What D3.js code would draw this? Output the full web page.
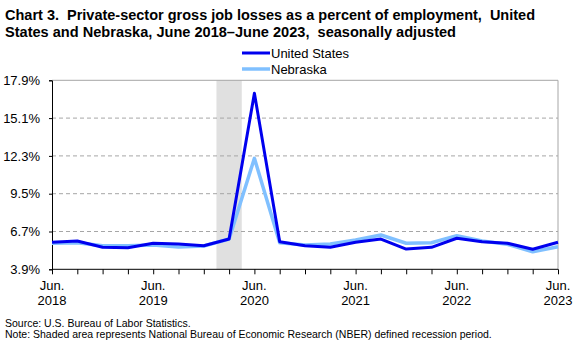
<!DOCTYPE html>
<html>
<head>
<meta charset="utf-8">
<script src="https://cdn.jsdelivr.net/npm/d3@7/dist/d3.min.js"></script>
<style>
  html, body { margin: 0; padding: 0; background: #fff; }
  svg { display: block; font-family: "Liberation Sans", Arial, sans-serif; }
  .title { font-weight: bold; font-size: 14.7px; white-space: pre; }
</style>
</head>
<body>
<svg id="chart" width="583" height="346"></svg>
<script>
// Quarterly reference months, June 2018 through June 2023
const quarters = [
  "Jun 2018", "Sep 2018", "Dec 2018", "Mar 2019",
  "Jun 2019", "Sep 2019", "Dec 2019", "Mar 2020",
  "Jun 2020", "Sep 2020", "Dec 2020", "Mar 2021",
  "Jun 2021", "Sep 2021", "Dec 2021", "Mar 2022",
  "Jun 2022", "Sep 2022", "Dec 2022", "Mar 2023",
  "Jun 2023"
];

// Gross job losses as a percent of employment
const unitedStates = [
  5.90, 6.00, 5.53, 5.50, 5.83, 5.77, 5.65, 6.14, 16.94, 5.94,
  5.65, 5.53, 5.90, 6.14, 5.40, 5.53, 6.20, 5.94, 5.83, 5.38, 5.90
];
const nebraska = [
  5.83, 5.87, 5.65, 5.65, 5.70, 5.55, 5.63, 6.14, 12.12, 5.87,
  5.70, 5.77, 6.07, 6.44, 5.83, 5.87, 6.39, 6.00, 5.75, 5.20, 5.57
];

// NBER recession quarter
const recessionQuarters = ["Mar 2020"];

const yTicks = [3.9, 6.7, 9.5, 12.3, 15.1, 17.9];
const xTickLabels = ["Jun 2018", "Jun 2019", "Jun 2020", "Jun 2021", "Jun 2022", "Jun 2023"];

const svg = d3.select("#chart");
const plotLeft = 52, plotRight = 558, plotTop = 80.3, plotBottom = 269.3;

const x = d3.scalePoint().domain(quarters).range([plotLeft, plotRight]);
const y = d3.scaleLinear().domain([3.9, 17.9]).range([plotBottom, plotTop]);
const step = x.step();

// Title
const title = svg.append("g");
title.append("text").attr("class", "title").attr("x", 5).attr("y", 20)
  .attr("textLength", 530).attr("lengthAdjust", "spacingAndGlyphs")
  .text("Chart 3.  Private-sector gross job losses as a percent of employment,  United");
title.append("text").attr("class", "title").attr("x", 5).attr("y", 37)
  .attr("textLength", 451).attr("lengthAdjust", "spacingAndGlyphs")
  .text("States and Nebraska, June 2018\u2013June 2023,  seasonally adjusted");

// Recession shading
svg.append("g").selectAll("rect").data(recessionQuarters).join("rect")
  .attr("x", d => x(d) - step / 2)
  .attr("y", plotTop)
  .attr("width", step)
  .attr("height", plotBottom - plotTop)
  .attr("fill", "#e0e0e0");

// Horizontal gridlines
svg.append("g").selectAll("line").data(yTicks.slice(1, -1)).join("line")
  .attr("x1", plotLeft).attr("x2", plotRight)
  .attr("y1", d => y(d)).attr("y2", d => y(d))
  .attr("stroke", "#a6a6a6").attr("stroke-width", 1)
  .attr("stroke-dasharray", "4,3");

// Top and right frame
svg.append("line").attr("x1", plotLeft).attr("x2", plotRight)
  .attr("y1", y(17.9)).attr("y2", y(17.9))
  .attr("stroke", "#a6a6a6");
svg.append("line").attr("x1", plotRight).attr("x2", plotRight)
  .attr("y1", plotTop).attr("y2", plotBottom)
  .attr("stroke", "#a6a6a6");

// Y axis
const yAxis = d3.axisLeft(y).tickValues(yTicks)
  .tickFormat(d => d.toFixed(1) + "%").tickSize(3).tickPadding(9);
const yg = svg.append("g").attr("transform", `translate(${plotLeft},0)`).call(yAxis);
yg.select(".domain").attr("stroke", "#000");
yg.selectAll(".tick line").attr("stroke", "#000");
yg.selectAll(".tick text").attr("font-size", 13).attr("fill", "#000")
  .attr("font-family", "'Liberation Sans', Arial, sans-serif");

// X axis
const xAxis = d3.axisBottom(x).tickSize(5).tickFormat("");
const xg = svg.append("g").attr("transform", `translate(0,${plotBottom})`).call(xAxis);
xg.select(".domain").attr("stroke", "#000").attr("d", `M${plotLeft},0H${plotRight}`);
xg.selectAll(".tick line").attr("stroke", "#000");

const xl = svg.append("g").selectAll("text").data(xTickLabels).join("text")
  .attr("x", d => x(d)).attr("text-anchor", "middle")
  .attr("font-size", 13).attr("fill", "#000");
xl.append("tspan").attr("x", d => x(d)).attr("y", 290).text(d => d.split(" ")[0] + ".");
xl.append("tspan").attr("x", d => x(d)).attr("y", 305).text(d => d.split(" ")[1]);

// Lines
const line = vals => d3.line()
  .x((d, i) => x(quarters[i]))
  .y(d => y(d))(vals);

svg.append("path").attr("d", line(nebraska))
  .attr("fill", "none").attr("stroke", "#80c0ff").attr("stroke-width", 3.5)
  .attr("stroke-linejoin", "round");
svg.append("path").attr("d", line(unitedStates))
  .attr("fill", "none").attr("stroke", "#0000ee").attr("stroke-width", 3)
  .attr("stroke-linejoin", "round");

// Legend
const legendItems = [
  { name: "United States", color: "#0000ee", w: 3 },
  { name: "Nebraska", color: "#80c0ff", w: 3.5 }
];
const lg = svg.append("g").selectAll("g").data(legendItems).join("g")
  .attr("transform", (d, i) => `translate(242,${53 + i * 16})`);
lg.append("line").attr("x1", 0).attr("x2", 28).attr("y1", 0).attr("y2", 0)
  .attr("stroke", d => d.color).attr("stroke-width", d => d.w);
lg.append("text").attr("x", 29).attr("y", 4.5).attr("font-size", 13)
  .attr("fill", "#000").text(d => d.name);

// Footnotes
svg.append("text").attr("x", 5).attr("y", 327).attr("font-size", 10.5)
  .text("Source: U.S. Bureau of Labor Statistics.");
svg.append("text").attr("x", 5).attr("y", 338).attr("font-size", 10.5)
  .text("Note: Shaded area represents National Bureau of Economic Research (NBER) defined recession period.");
</script>
</body>
</html>
